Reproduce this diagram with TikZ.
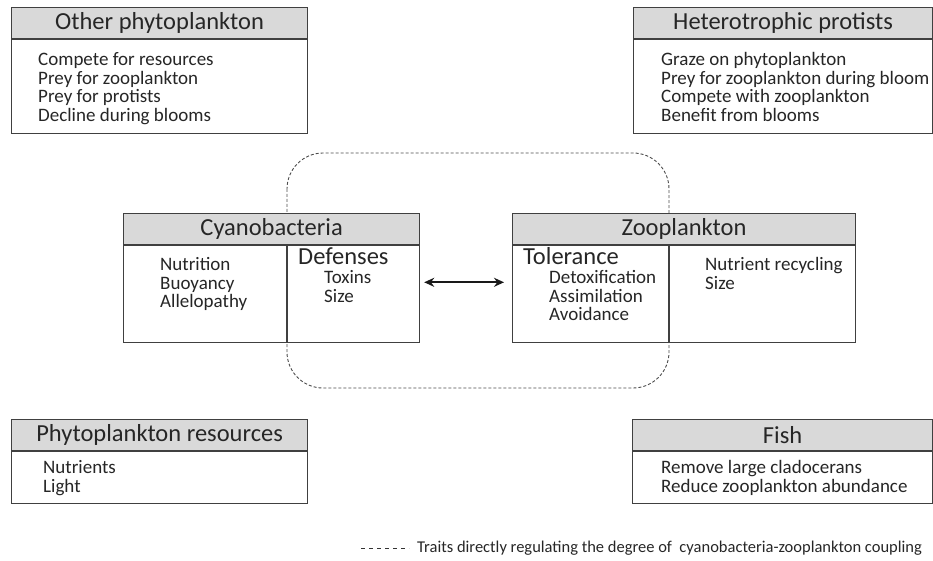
\documentclass[tikz,border=0pt]{standalone}
\usepackage{fontspec}
\setmainfont{Carlito}
\usetikzlibrary{positioning,arrows.meta}
\begin{document}
\begin{tikzpicture}[x=1pt, y=-1pt, >={Stealth[length=10pt,width=9pt]},
    head/.style={draw=black!75, fill=black!15, line width=1.2pt, inner sep=0pt,
        minimum height=31pt, text=black!85, font=\fontsize{24.5}{27}\selectfont},
    body/.style={draw=black!75, fill=white, line width=1.2pt, inner sep=0pt},
    item/.style={inner sep=0pt, align=left, anchor=north west, text=black!85,
        font=\fontsize{19}{18.6}\selectfont},
    sub/.style={inner sep=0pt, anchor=north west, text=black!85,
        font=\fontsize{24.5}{27}\selectfont},
    boxline/.style={draw=black!75, line width=1.2pt}]
    \useasboundingbox (0,0) rectangle (933,561);
    \def\cw{296}
    % coupling region behind the two central boxes
    \draw[black!70, line width=0.9pt, dash pattern=on 3pt off 2pt, rounded corners=36pt]
        (287,153) rectangle (669,388);

    % top row
    \node[head, minimum width=\cw pt, anchor=north west] (other) at (11,7) {Other phytoplankton};
    \node[body, minimum width=\cw pt, minimum height=94pt, below=0pt of other] (otherbody) {};
    \node[item] (otherlist) at ([shift={(27,13)}]otherbody.north west)
        {Compete for resources\\Prey for zooplankton\\Prey for protists\\Decline during blooms};

    \node[head, minimum width=299pt, anchor=north west] (protists) at (633,7) {Heterotrophic protists};
    \node[body, minimum width=299pt, minimum height=94pt, below=0pt of protists] (protistsbody) {};
    \node[item] (protistslist) at ([shift={(28,13)}]protistsbody.north west)
        {Graze on phytoplankton\\Prey for zooplankton during bloom\\Compete with zooplankton\\Benefit from blooms};

    % central boxes
    \node[head, minimum width=\cw pt, anchor=north west] (cyano) at (123,213) {Cyanobacteria};
    \node[body, minimum width=\cw pt, minimum height=97pt, below=0pt of cyano] (cyanobody) {};
    \draw[boxline] ([xshift=164pt]cyanobody.north west) -- ([xshift=164pt]cyanobody.south west);
    \node[item] (cyanolist) at ([shift={(37,12)}]cyanobody.north west)
        {Nutrition\\Buoyancy\\Allelopathy};
    \node[sub] (defenses) at ([shift={(175,2)}]cyanobody.north west) {Defenses};
    \node[item] (defenselist) at ([shift={(201,25)}]cyanobody.north west) {Toxins\\Size};

    \node[head, minimum width=343pt, anchor=north west] (zoo) at (512,213) {Zooplankton};
    \node[body, minimum width=343pt, minimum height=97pt, below=0pt of zoo] (zoobody) {};
    \draw[boxline] ([xshift=157pt]zoobody.north west) -- ([xshift=157pt]zoobody.south west);
    \node[sub] (tolerance) at ([shift={(11,2)}]zoobody.north west) {Tolerance};
    \node[item] (tolerancelist) at ([shift={(37,25)}]zoobody.north west)
        {Detoxification\\Assimilation\\Avoidance};
    \node[item] (zoolist) at ([shift={(193,12)}]zoobody.north west) {Nutrient recycling\\Size};

    \draw[<->, black!90, line width=1.8pt] ([shift={(4pt,12pt)}]cyanobody.east)
        -- ([shift={(-8pt,12pt)}]zoobody.west);

    % bottom row
    \node[head, minimum width=\cw pt, anchor=north west] (resources) at (11,419) {Phytoplankton resources};
    \node[body, minimum width=\cw pt, minimum height=52pt, below=0pt of resources] (resourcesbody) {};
    \node[item] (resourceslist) at ([shift={(32,9)}]resourcesbody.north west) {Nutrients\\Light};

    \node[head, minimum width=300pt, anchor=north west] (fish) at (632,419) {Fish};
    \node[body, minimum width=300pt, minimum height=52pt, below=0pt of fish] (fishbody) {};
    \node[item] (fishlist) at ([shift={(29,9)}]fishbody.north west)
        {Remove large cladocerans\\Reduce zooplankton abundance};

    % legend
    \node[inner sep=0pt, anchor=west, text=black!85, font=\fontsize{16.5}{18}\selectfont] (legend) at (417,548)
        {Traits directly regulating the degree of\ \ cyanobacteria-zooplankton coupling};
    \coordinate (legstart) at (361,548);
    \draw[black!80, line width=0.9pt, dash pattern=on 4pt off 4pt] (legstart) -- ([xshift=-8pt]legend.west);
\end{tikzpicture}
\end{document}
